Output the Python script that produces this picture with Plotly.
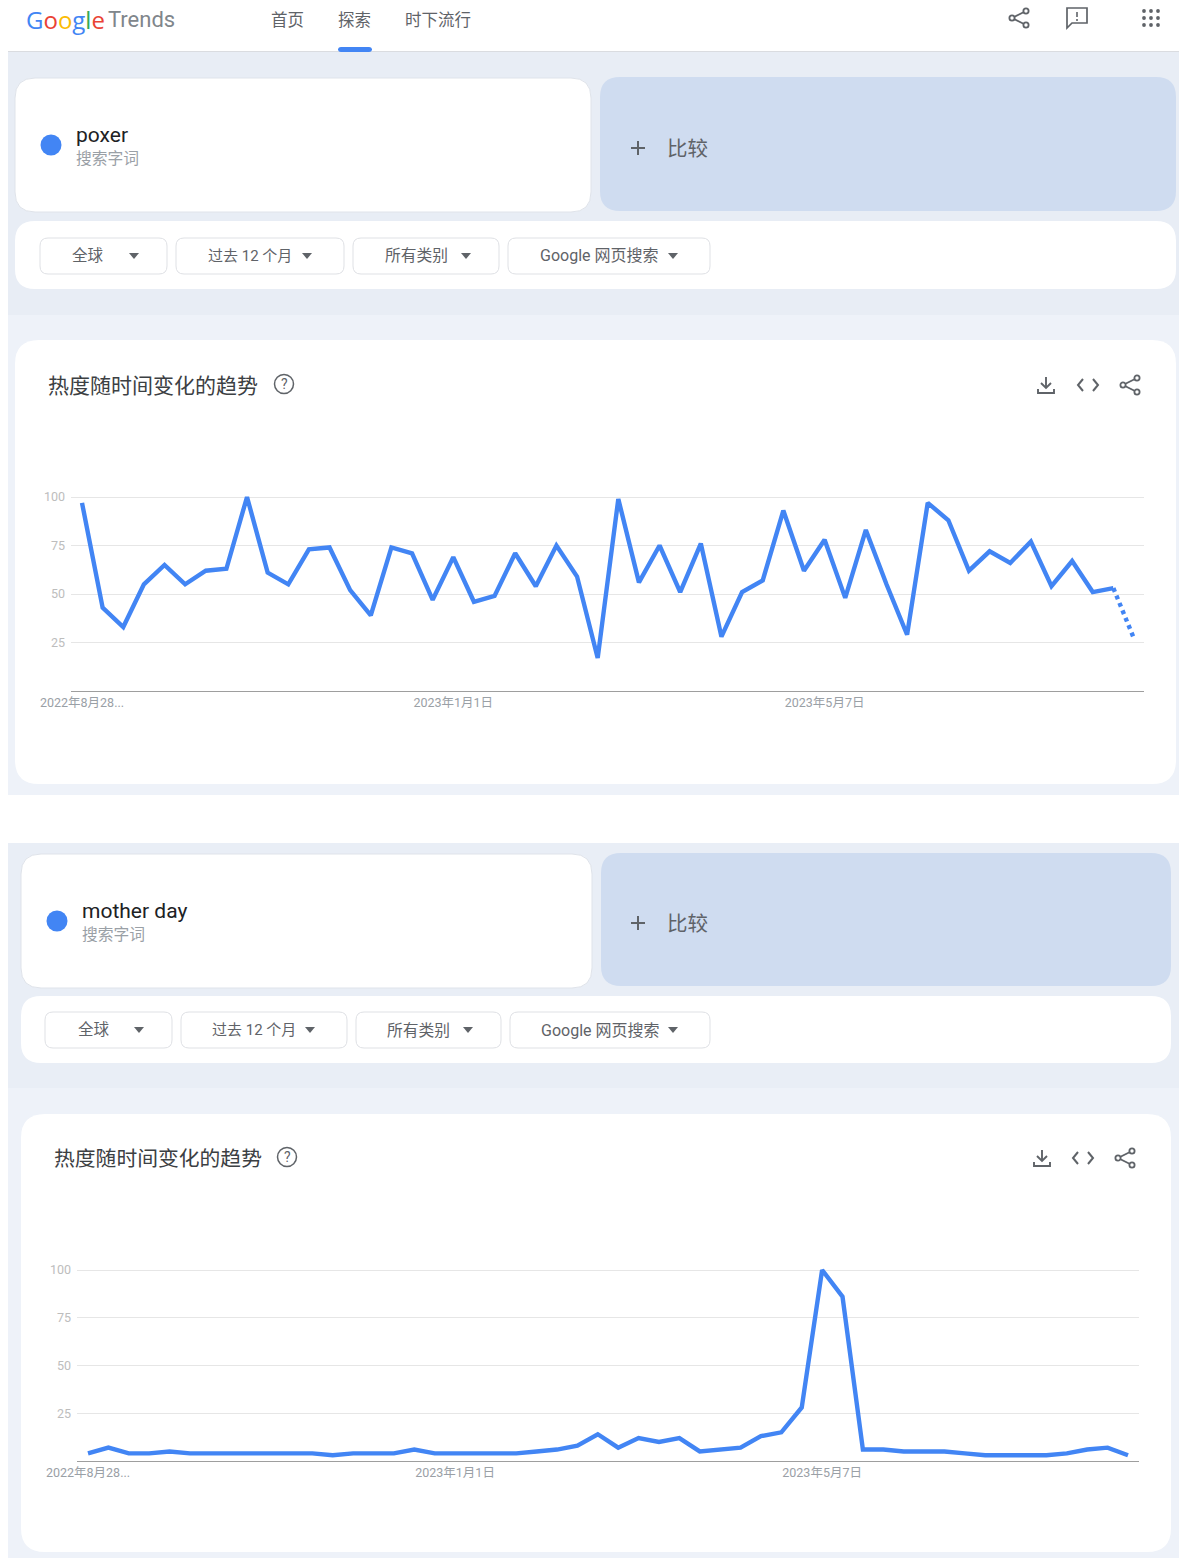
import plotly.graph_objects as go
import pandas as pd

W, H = 1179, 1558
weeks = pd.date_range("2022-08-28", periods=52, freq="7D")
poxer = [97,43,33,55,65,55,62,63,100,61,55,73,74,52,39,74,71,47,69,46,49,71,54,75,59,17,
         99,56,75,51,76,28,51,57,93,62,78,48,83,55,29,97,88,62,72,66,77,54,67,51,53,27]
mother_day = [4,7,4,4,5,4,4,4,4,4,4,4,3,4,4,4,6,4,4,4,4,4,5,6,8,14,
              7,12,10,12,5,6,7,13,15,28,100,86,6,6,5,5,5,4,3,3,3,3,4,6,7,3]
y_ticks = [0, 25, 50, 75, 100]
y_labels = ["", "25", "50", "75", "100"]
date_ticks = ["2022-08-28", "2023-01-01", "2023-05-07"]
date_labels = ["2022年8月28...", "2023年1月1日", "2023年5月7日"]

BLUE = "#4285f4"
CJK = "Noto Sans CJK SC"
LATIN = "Roboto, Noto Sans CJK SC"
X = lambda x: x / W
Y = lambda y: 1 - y / H
shapes, notes = [], []

def rrect(x0, y0, x1, y1, r, fill, line=None, lw=1):
    p = (f"M {X(x0+r)} {Y(y0)} L {X(x1-r)} {Y(y0)} Q {X(x1)} {Y(y0)} {X(x1)} {Y(y0+r)} "
         f"L {X(x1)} {Y(y1-r)} Q {X(x1)} {Y(y1)} {X(x1-r)} {Y(y1)} "
         f"L {X(x0+r)} {Y(y1)} Q {X(x0)} {Y(y1)} {X(x0)} {Y(y1-r)} "
         f"L {X(x0)} {Y(y0+r)} Q {X(x0)} {Y(y0)} {X(x0+r)} {Y(y0)} Z")
    shapes.append(dict(type="path", xref="paper", yref="paper", path=p, fillcolor=fill,
                       line=dict(color=line or fill, width=lw if line else 0), layer="below"))

def rect(x0, y0, x1, y1, fill):
    shapes.append(dict(type="rect", xref="paper", yref="paper", x0=X(x0), x1=X(x1), y0=Y(y0), y1=Y(y1),
                       fillcolor=fill, line=dict(width=0), layer="below"))

def seg(pts, color="#5f6368", lw=1.6, fill=None, close=False):
    p = "M " + " L ".join(f"{X(a)} {Y(b)}" for a, b in pts) + (" Z" if close else "")
    shapes.append(dict(type="path", xref="paper", yref="paper", path=p, fillcolor=fill or "rgba(0,0,0,0)",
                       line=dict(color=color, width=lw), layer="above"))

def circ(cx, cy, r, fill="rgba(0,0,0,0)", line="#5f6368", lw=1.5, layer="above"):
    shapes.append(dict(type="circle", xref="paper", yref="paper", x0=X(cx-r), x1=X(cx+r), y0=Y(cy+r), y1=Y(cy-r),
                       fillcolor=fill, line=dict(color=line, width=lw), layer=layer))

def text(x, y, s, size, color="#5f6368", family=CJK, anchor="left"):
    notes.append(dict(xref="paper", yref="paper", x=X(x), y=Y(y), text=s, showarrow=False,
                      xanchor=anchor, yanchor="middle", borderpad=0, borderwidth=0,
                      font=dict(family=family, size=size, color=color)))

def tri(cx, cy):
    seg([(cx-5, cy-3), (cx+5, cy-3), (cx, cy+3)], color="#5f6368", lw=0, fill="#5f6368", close=True)

def share(cx, cy):
    seg([(cx+7, cy-7), (cx-7, cy), (cx+7, cy+7)], lw=1.8)
    for a, b in [(cx+7, cy-7), (cx-7, cy), (cx+7, cy+7)]:
        circ(a, b, 2.6, fill="#ffffff", lw=1.8)

def toolbar(dl, code, sh, cy, help_x, help_y):
    seg([(dl, cy-8), (dl, cy+3)], lw=1.9)
    seg([(dl-5, cy-2), (dl, cy+3), (dl+5, cy-2)], lw=1.9)
    seg([(dl-8, cy+4), (dl-8, cy+8), (dl+8, cy+8), (dl+8, cy+4)], lw=1.9)
    seg([(code-5, cy-6), (code-10, cy), (code-5, cy+6)], lw=2)
    seg([(code+5, cy-6), (code+10, cy), (code+5, cy+6)], lw=2)
    share(sh, cy)
    circ(help_x, help_y, 9.5, lw=1.5)
    text(help_x, help_y, "?", 14, family="Roboto", anchor="center")

def section(band_top, band_mid, bottom, band_col, low_col, term, card, comp, filt, chips, chart,
            dot, term_x, plus_x, plus_y, cmp_x, title_x, title_y, title_size):
    rect(8, band_top, W, band_mid, band_col)
    rect(8, band_mid, W, bottom, low_col)
    rrect(*card, 20, "#ffffff", "#dfe3ea")
    rrect(*comp, 20, "#cfdcf0")
    rrect(*filt, 20, "#ffffff")
    rrect(*chart, 24, "#ffffff")
    circ(dot[0], dot[1], 10.5, fill=BLUE, line=BLUE, lw=0)
    text(term_x, dot[1]-10, term, 21, "#202124", "Roboto")
    text(term_x, dot[1]+12, "搜索字词", 15.75, "#9aa0a6")
    seg([(plus_x-7, plus_y), (plus_x+7, plus_y)], lw=2)
    seg([(plus_x, plus_y-7), (plus_x, plus_y+7)], lw=2)
    text(cmp_x, plus_y-1.5, "比较", 20.5, "#5f6368")
    text(title_x, title_y-1, "热度随时间变化的趋势", title_size, "#3c4043")
    for (x0, x1, label, lx, tx, y0, y1, fs) in chips:
        rrect(x0, y0, x1, y1, 8, "#ffffff", "#dfe1e5")
        text(lx, (y0+y1)/2, label, fs, "#5f6368", LATIN)
        tri(tx, (y0+y1)/2)

# page chrome
rect(8, 51, W, 52, "#dadce0")
notes.append(dict(xref="paper", yref="paper", x=X(25), y=Y(19), xanchor="left", yanchor="middle", showarrow=False,
                  borderpad=0, font=dict(family="Open Sans", size=24),
                  text='<span style="color:#4285f4">G</span><span style="color:#ea4335">o</span>'
                       '<span style="color:#fbbc05">o</span><span style="color:#4285f4">g</span>'
                       '<span style="color:#34a853">l</span><span style="color:#ea4335">e</span>'))
text(108, 20, "Trends", 22, "#80868b", "Roboto")
text(271, 19, "首页", 16.5)
text(338, 19, "探索", 16.5)
text(405, 19, "时下流行", 16.5)

section(52, 315, 795, "#e8edf5", "#eef2f9", "poxer", (15, 78, 591, 212), (600, 77, 1176, 211), (15, 221, 1176, 289),
        [(40, 167, "全球", 72, 134, 238, 274, 15.5), (176, 344, "过去 12 个月", 208, 307, 238, 274, 15),
         (353, 499, "所有类别", 385, 466, 238, 274, 15.75), (508, 710, "Google 网页搜索", 540, 673, 238, 274, 16)],
        (15, 340, 1176, 784), (51, 145), 76, 638, 148, 667, 48, 385, 21)
section(843, 1088, H, "#e9eef6", "#eef2f9", "mother day", (21, 854, 592, 988), (601, 853, 1171, 986), (21, 996, 1171, 1063),
        [(45, 172, "全球", 78, 139, 1012, 1048, 15.5), (181, 347, "过去 12 个月", 212, 310, 1012, 1048, 15),
         (356, 501, "所有类别", 387, 468, 1012, 1048, 15.75), (510, 710, "Google 网页搜索", 541, 673, 1012, 1048, 16)],
        (21, 1114, 1171, 1552), (57, 921), 82, 638, 923, 667, 54, 1158, 20.8)
rrect(338, 47, 372, 52, 3, BLUE)

# header icons
share(1019, 18)
seg([(1067, 8), (1087, 8), (1087, 23), (1072, 23), (1067, 28)], lw=1.7, close=True)
seg([(1077, 12), (1077, 17)], lw=1.6)
seg([(1077, 19), (1077, 21)], lw=1.6)
for a in (1144, 1151, 1158):
    for b in (11, 18, 25):
        circ(a, b, 1.9, fill="#5f6368", line="#5f6368", lw=0)
toolbar(1046, 1088, 1130, 385, 284, 384)
toolbar(1042, 1083, 1125, 1158, 287, 1157)

fig = go.Figure()

def chart(values, sfx, ax0, ax1, first_x, last_x, y100, y0, dotted_tail):
    xa, ya = f"xaxis{sfx}", f"yaxis{sfx}"
    step = (last_x - first_x) / 51
    lo = weeks[0] - pd.Timedelta(days=7 * (first_x - ax0) / step)
    hi = weeks[-1] + pd.Timedelta(days=7 * (ax1 - last_x) / step)
    ref = dict(xaxis=f"x{sfx}", yaxis=f"y{sfx}")
    solid_end = 51 if dotted_tail else 52
    fig.add_trace(go.Scatter(x=weeks[:solid_end], y=values[:solid_end], mode="lines", cliponaxis=False,
                             line=dict(color=BLUE, width=4.4), showlegend=False, hoverinfo="x+y", **ref))
    if dotted_tail:
        fig.add_trace(go.Scatter(x=weeks[50:], y=values[50:], mode="lines", cliponaxis=False,
                                 line=dict(color=BLUE, width=4.4, dash="4px,4px"), showlegend=False, **ref))
    unit = (y0 - y100) / 100
    fig.layout[xa] = dict(domain=[X(ax0), X(ax1)], range=[lo, hi], type="date", tickmode="array",
                          tickvals=date_ticks, ticktext=date_labels, showgrid=False, zeroline=False,
                          showline=True, linecolor="#9e9e9e", linewidth=1, ticks="", anchor=f"y{sfx}",
                          automargin=False, tickangle=0,
                          tickfont=dict(family=LATIN, size=12.5, color="#9aa0a6"), fixedrange=True)
    fig.layout[ya] = dict(domain=[Y(y0), Y(y100 - 4 * unit)], range=[0, 104], tickmode="array", tickvals=y_ticks,
                          ticktext=y_labels, showgrid=True, gridcolor="#e6e6e6", gridwidth=1, zeroline=False,
                          showline=False, ticks="", anchor=f"x{sfx}", automargin=False, ticklabelstandoff=5,
                          tickfont=dict(family=LATIN, size=12.5, color="#bdbdbd"), fixedrange=True)

chart(poxer, "", 71, 1144, 82, 1134, 497, 691, True)
chart(mother_day, "2", 77, 1139, 88, 1128, 1270, 1461, False)

fig.update_layout(width=W, height=H, margin=dict(l=0, r=0, t=0, b=0, autoexpand=False), paper_bgcolor="#ffffff",
                  plot_bgcolor="rgba(0,0,0,0)", shapes=shapes, annotations=notes, showlegend=False)
fig.write_html("out.html", config={"displayModeBar": False},
               post_script="document.body.style.margin='0';")
